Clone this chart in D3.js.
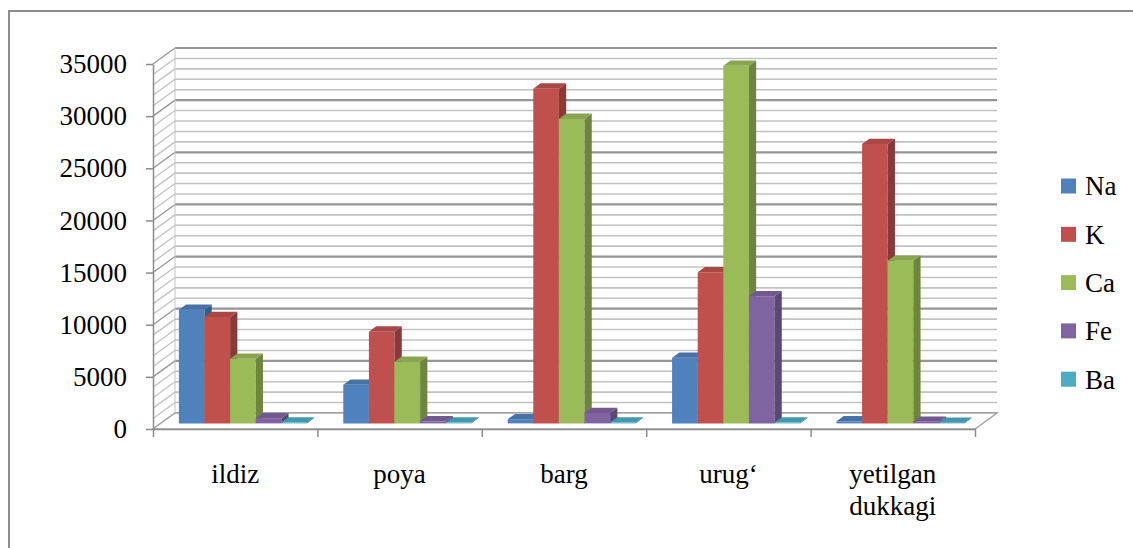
<!DOCTYPE html>
<html>
<head>
<meta charset="utf-8">
<script src="https://cdn.jsdelivr.net/npm/d3@7"></script>
<style>
  html, body { margin: 0; padding: 0; background: #fff; }
  svg { display: block; }
  svg text { font-family: "Liberation Serif", serif !important; fill: #000; }
</style>
</head>
<body>
<svg id="chart" width="1133" height="548" font-family="Liberation Serif"></svg>
<script>
// Plant parts (categories) and element series
const categories = ["ildiz", "poya", "barg", "urug\u2018", "yetilgan dukkagi"];
const seriesNames = ["Na", "K", "Ca", "Fe", "Ba"];
const seriesColors = ["#4F81BD", "#C0504D", "#9BBB59", "#8064A2", "#4BACC6"];

// Values per series, in category order
const na = [10900, 3700, 400, 6300, 200];
const k  = [10200, 8800, 32100, 14500, 26800];
const ca = [6200, 5900, 29200, 34300, 15600];
const fe = [500, 200, 1000, 12200, 150];
const ba = [80, 80, 80, 80, 60];
const seriesValues = [na, k, ca, fe, ba];

const yTicks = [0, 5000, 10000, 15000, 20000, 25000, 30000, 35000];

(function () {
  const serif = "Liberation Serif, serif";
  const svg = d3.select("#chart");

  // Outer frame of the chart area
  svg.append("rect")
    .attr("x", 9).attr("y", 11).attr("width", 1300).attr("height", 700)
    .attr("fill", "none").attr("stroke", "#8c8c8c").attr("stroke-width", 2);

  // Plot geometry (oblique projection: depth goes up and to the right)
  const pLeft = 153, pRight = 975, pBottom = 429, pTop = 64;
  const depthX = 22, depthY = -16;
  const barFront = 0.35, barBack = 0.68;

  const y = d3.scaleLinear().domain([0, 35000]).range([pBottom, pTop]);
  const x0 = d3.scaleBand().domain(categories).range([pLeft, pRight]).padding(0);
  const x1 = d3.scaleBand().domain(seriesNames).range([0, x0.bandwidth()])
    .paddingInner(0).paddingOuter(0.71);
  const xEdge = d3.scaleLinear().domain([0, categories.length]).range([pLeft, pRight]);

  // Walls: side wall hatching and back wall gridlines every 1000
  const grid = svg.append("g");
  d3.range(0, 35001, 1000).forEach(v => {
    const major = v % 5000 === 0;
    const col = major ? "#969696" : "#c2c2c2";
    const sw = major ? 2.2 : 1.6;
    grid.append("line")
      .attr("x1", pLeft + depthX).attr("x2", pRight + depthX)
      .attr("y1", y(v) + depthY).attr("y2", y(v) + depthY)
      .attr("stroke", col).attr("stroke-width", sw);
    grid.append("line")
      .attr("x1", pLeft).attr("x2", pLeft + depthX)
      .attr("y1", y(v)).attr("y2", y(v) + depthY)
      .attr("stroke", col).attr("stroke-width", 1.3);
  });
  // back corner of the walls
  grid.append("line")
    .attr("x1", pLeft + depthX).attr("x2", pLeft + depthX)
    .attr("y1", y(0) + depthY).attr("y2", y(35000) + depthY)
    .attr("stroke", "#c4c4c4").attr("stroke-width", 1);

  // Floor
  svg.append("path")
    .attr("d", `M${pLeft},${pBottom}L${pRight},${pBottom}L${pRight + depthX},${pBottom + depthY}L${pLeft + depthX},${pBottom + depthY}Z`)
    .attr("fill", "#fff").attr("stroke", "#a6a6a6").attr("stroke-width", 1.5);

  // Value axis on the front-left edge
  const yAxis = svg.append("g")
    .attr("transform", `translate(${pLeft},0)`)
    .call(d3.axisLeft(y).tickValues(yTicks).tickFormat(d3.format("d"))
      .tickSize(7).tickSizeOuter(0).tickPadding(19))
    .attr("font-family", serif).attr("font-size", 27);
  yAxis.select(".domain").attr("stroke", "#8c8c8c").attr("stroke-width", 1.5);
  yAxis.selectAll(".tick line").attr("stroke", "#8c8c8c").attr("stroke-width", 1.5);
  yAxis.selectAll(".tick text").attr("fill", "#000");

  // Category axis along the front edge of the floor
  const xAxis = svg.append("g")
    .attr("transform", `translate(0,${pBottom})`)
    .call(d3.axisBottom(xEdge).tickValues(d3.range(0, categories.length + 1))
      .tickFormat("").tickSize(8).tickSizeOuter(0));
  xAxis.select(".domain").attr("stroke", "#8c8c8c").attr("stroke-width", 1.5);
  xAxis.selectAll(".tick line").attr("stroke", "#8c8c8c").attr("stroke-width", 1.5);

  // Category labels (multi-word labels wrap to two lines)
  const catLabels = svg.append("g").attr("font-family", serif).attr("font-size", 27);
  categories.forEach(c => {
    const cx = x0(c) + x0.bandwidth() / 2;
    const t = catLabels.append("text")
      .attr("x", cx).attr("y", 483)
      .attr("text-anchor", "middle");
    c.split(" ").forEach((w, i) => {
      t.append("tspan").attr("x", cx).attr("dy", i === 0 ? 0 : 32).text(w);
    });
  });

  // 3D columns: front face, right side face and top face
  const bars = svg.append("g");
  const fx = barFront * depthX, fy = barFront * depthY;
  const bx = barBack * depthX, by = barBack * depthY;
  categories.forEach((c, ci) => {
    seriesNames.forEach((s, si) => {
      const v = seriesValues[si][ci];
      const base = d3.color(seriesColors[si]);
      const topCol = base.darker(0.35).formatHex();
      const sideCol = base.darker(0.95).formatHex();
      const xl = x0(c) + x1(s), xr = xl + x1.bandwidth();
      const yb = y(0), yt = y(v);
      const g = bars.append("g");
      g.append("path")
        .attr("d", `M${xl + fx},${yb + fy}L${xr + fx},${yb + fy}L${xr + fx},${yt + fy}L${xl + fx},${yt + fy}Z`)
        .attr("fill", base.formatHex());
      g.append("path")
        .attr("d", `M${xr + fx},${yb + fy}L${xr + bx},${yb + by}L${xr + bx},${yt + by}L${xr + fx},${yt + fy}Z`)
        .attr("fill", sideCol);
      g.append("path")
        .attr("d", `M${xl + fx},${yt + fy}L${xr + fx},${yt + fy}L${xr + bx},${yt + by}L${xl + bx},${yt + by}Z`)
        .attr("fill", topCol);
    });
  });

  // Legend
  const legend = svg.append("g").attr("font-family", serif).attr("font-size", 27);
  seriesNames.forEach((s, i) => {
    const cy = 186 + i * 48.3;
    legend.append("rect")
      .attr("x", 1061).attr("y", cy - 7.5).attr("width", 15).attr("height", 15)
      .attr("fill", seriesColors[i]);
    legend.append("text")
      .attr("x", 1085).attr("y", cy).attr("dy", "0.35em")
      .text(s);
  });
})();
</script>
</body>
</html>
